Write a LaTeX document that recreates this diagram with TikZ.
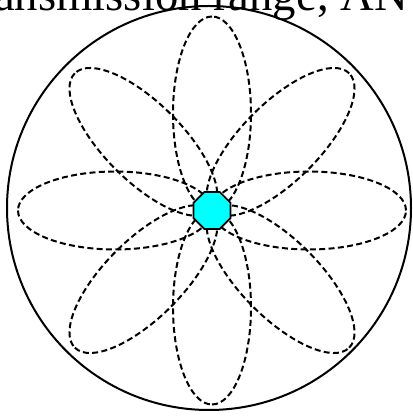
\documentclass[tikz,border=0pt]{standalone}
\usepackage{fontspec}
\setmainfont{Liberation Serif}
\usetikzlibrary{shapes.geometric}
\definecolor{aqua}{RGB}{0,255,255}

\begin{document}
\begin{tikzpicture}[x=0.75pt, y=0.75pt,
    petal/.style = {dashed, dash pattern=on 4.5pt off 2.5pt, line width=1.5pt},
    node/.style = {regular polygon, regular polygon sides=8, draw, line width=1.2pt,
        fill=aqua, minimum size=30pt, inner sep=0pt}]
    % Frame of the picture
    \useasboundingbox (0,0) rectangle (413,417);
    \clip (0,0) rectangle (413,417);
    % Caption, cut by the top edge
    \node[anchor=base west, inner sep=0pt, font=\fontsize{35}{39}\selectfont] (title) at (-6,406) {ansmission range, AN};
    % Transmission range
    \coordinate (O) at (209,209);
    \draw[line width=1.5pt] (O) circle [radius=202];
    % Petals round the node
    \coordinate (C) at (212,206.5);
    \foreach \a in {0,45,...,315}
        \draw[petal] (C) ++(\a:97) ellipse [x radius=97, y radius=39, rotate=\a];
    % Central node
    \node[node] (n) at (C) {};
\end{tikzpicture}
\end{document}
